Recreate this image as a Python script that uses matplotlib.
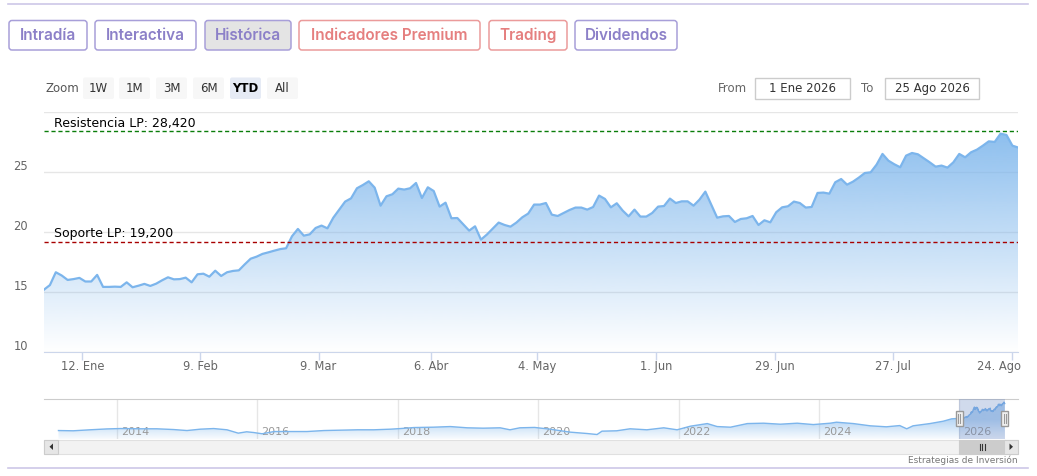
import numpy as np
import matplotlib
matplotlib.use('Agg')
import matplotlib.pyplot as plt
import matplotlib.colors as mcolors
from matplotlib.patches import FancyBboxPatch, Rectangle, Polygon
from matplotlib.transforms import ScaledTranslation, blended_transform_factory

# ---- data (daily closes, 2 Jan - 25 Aug 2026) ----
prices = [
    15.22, 15.6, 16.67, 16.4, 16.03, 16.1, 16.2, 15.9, 15.9, 16.45, 15.45, 15.45,
    15.47, 15.45, 15.83, 15.42, 15.55, 15.7, 15.53, 15.72, 16.0, 16.25, 16.08, 16.1,
    16.22, 15.83, 16.5, 16.55, 16.3, 16.8, 16.36, 16.67, 16.78, 16.83,
    17.33, 17.8, 17.97, 18.2, 18.33, 18.47, 18.6, 18.67, 19.67, 20.28, 19.72, 19.83,
    20.36, 20.56, 20.33, 21.22, 21.89, 22.56, 22.83, 23.67, 23.94, 24.25, 23.72, 22.22,
    23.0, 23.17, 23.64, 23.56, 23.67, 24.11, 22.86, 23.75, 23.44,
    22.14, 22.47, 21.17, 21.19, 20.67, 20.14, 20.5, 19.39, 19.81, 20.31, 20.81, 20.61,
    20.47, 20.81, 21.25, 21.56, 22.31, 22.31, 22.44, 21.47, 21.36, 21.61, 21.86, 22.06,
    22.06, 21.89, 22.11, 23.06, 22.78, 22.08, 22.42, 21.81, 21.33,
    21.89, 21.31, 21.31, 21.61, 22.14, 22.19, 22.81, 22.44, 22.58, 22.58, 22.22, 22.72,
    23.39, 22.31, 21.22, 21.33, 21.36, 20.86, 21.11, 21.17, 21.36, 20.61, 21.0, 20.83,
    21.67, 22.08, 22.17, 22.56, 22.44, 22.06, 22.11, 23.28, 23.31,
    23.22, 24.17, 24.44, 23.97, 24.22, 24.56, 24.94, 25.0, 25.64, 26.53, 25.97, 25.67,
    25.42, 26.39, 26.61, 26.5, 26.17, 25.83, 25.47, 25.56, 25.39, 25.83, 26.53, 26.25,
    26.67, 26.89, 27.22, 27.58, 27.53, 28.22, 28.11, 27.22, 27.06,
]
tick_labels = ['12. Ene', '9. Feb', '9. Mar', '6. Abr', '4. May', '1. Jun', '29. Jun', '27. Jul', '24. Ago']
tick_pos = [6.5, 26.5, 46.5, 65.5, 83.5, 103.7, 123.8, 143.8, 163.9]
y_ticks = [10, 15, 20, 25, 30]
y_labels = ['10', '15', '20', '25', '']

resistencia = 28.42
soporte = 19.2

# navigator history (year, value) before 2026
hist_years = [2013.17, 2013.38, 2013.62, 2013.86, 2014.05, 2014.33, 2014.57, 2014.81, 2015.0,
              2015.19, 2015.38, 2015.57, 2015.73, 2015.85, 2015.95, 2016.07, 2016.24, 2016.47,
              2016.71, 2016.95, 2017.19, 2017.43, 2017.66, 2017.9, 2018.04, 2018.23, 2018.51,
              2018.75, 2018.99, 2019.22, 2019.46, 2019.6, 2019.74, 2019.95, 2020.17, 2020.46,
              2020.7, 2020.84, 2020.91, 2021.12, 2021.31, 2021.55, 2021.79, 2021.98, 2022.17,
              2022.41, 2022.55, 2022.74, 2022.98, 2023.21, 2023.45, 2023.69, 2023.92, 2024.16,
              2024.25, 2024.49, 2024.73, 2024.96, 2025.15, 2025.25, 2025.34, 2025.58, 2025.77,
              2025.89]
hist_values = [5.4, 5.2, 6.0, 6.7, 7.0, 6.8, 6.8, 6.2, 5.4,
               6.5, 7.0, 6.0, 3.3, 4.4, 3.8, 2.8, 4.6, 4.6,
               4.6, 5.4, 5.7, 6.0, 6.0, 6.5, 7.0, 7.8, 8.1,
               8.6, 7.6, 7.3, 7.6, 6.0, 7.6, 7.9, 6.5, 4.1,
               3.0, 2.2, 4.9, 5.2, 6.8, 6.0, 7.6, 6.0, 8.9,
               11.0, 8.6, 8.1, 11.0, 11.3, 10.5, 11.3, 10.2, 11.3,
               12.1, 11.0, 9.2, 8.4, 9.4, 6.8, 9.2, 11.0, 12.9,
               14.8]
nav_years = [2014, 2016, 2018, 2020, 2022, 2024, 2026]
ytd_start, ytd_end = 2026.0, 2026.646

W, H = 1037, 476
fig = plt.figure(figsize=(W / 100, H / 100), dpi=100)
plt.rcParams['font.family'] = ['DejaVu Sans']


def px_axes(l, t, r, b, **kw):
    return fig.add_axes([l / W, 1 - b / H, (r - l) / W, (b - t) / H], **kw)


def px(dx, dy):
    return ScaledTranslation(dx / 100, -dy / 100, fig.dpi_scale_trans)


def gradient_fill(ax, x, y, base, alphas, vmin, vmax, color='#7cb5ec', z=2):
    coll = ax.fill_between(x, y, base, facecolor='none', edgecolor='none')
    path = coll.get_paths()[0]
    grad = np.zeros((len(alphas), 1, 4))
    grad[:, 0, :3] = mcolors.to_rgb(color)
    grad[:, 0, 3] = alphas
    im = ax.imshow(grad, aspect='auto', origin='upper', interpolation='bilinear',
                   extent=[x[0], x[-1], vmin, vmax], zorder=z)
    im.set_clip_path(path, transform=ax.transData)


# ---- main chart ----
ax = px_axes(44, 112.3, 1018.3, 352.3)
x = np.arange(len(prices))
gradient_fill(ax, x, prices, 10, np.linspace(0.95, 0.0, 256), 10, 30)
ax.plot(x, prices, color='#7cb5ec', lw=1.6, zorder=4, solid_joinstyle='round')
ax.set_xlim(0, len(prices) - 1)
ax.set_ylim(10, 30)
ax.set_yticks(y_ticks)
ax.set_yticklabels([])
ax.set_xticks(tick_pos)
ax.set_xticklabels([])
ax.grid(axis='y', color='#e6e6e6', lw=1)
ax.set_axisbelow(True)
for s in ['top', 'left', 'right']:
    ax.spines[s].set_visible(False)
ax.spines['bottom'].set_color('#ccd6eb')
ax.tick_params(axis='y', length=0)
ax.tick_params(axis='x', length=5.8, width=1, color='#ccd6eb')

ax.axhline(resistencia, color='#0a7d0a', lw=1, ls=(0, (3, 2)), zorder=5)
ax.axhline(soporte, color='#a80000', lw=1, ls=(0, (3, 2)), zorder=5)
ax.text(1.7, resistencia, 'Resistencia LP: 28,420', fontsize=9, color='black',
        va='center', ha='left', transform=ax.transData + px(0, -7.7), zorder=6)
ax.text(1.7, soporte, 'Soporte LP: 19,200', fontsize=9, color='black',
        va='center', ha='left', transform=ax.transData + px(0, -8), zorder=6)

bt = blended_transform_factory(ax.transAxes, ax.transData)
for v, lab in zip(y_ticks, y_labels):
    ax.text(0, v, lab, ha='right', va='center', fontsize=8.3, color='#666666',
            transform=bt + px(-16, -6))
xt = blended_transform_factory(ax.transData, ax.transAxes)
for i, (p, lab) in enumerate(zip(tick_pos, tick_labels)):
    shift = -13 if i == len(tick_pos) - 1 else 0
    ax.text(p, 0, lab, ha='center', va='center', fontsize=8.3, color='#666666',
            transform=xt + px(shift, 14.5))

# ---- navigator ----
nav = px_axes(44, 399.3, 1018.3, 439.3)
ytd_x = [ytd_start + i * (ytd_end - ytd_start) / (len(prices) - 1) for i in range(len(prices))]
nx = np.array(hist_years + ytd_x)
ny = np.array(hist_values + prices)
nav_lo, nav_hi = -1.64, 30.5
vals = np.linspace(nav_hi, nav_lo, 256)
nav_alpha = 0.05 + 0.5 * np.clip((vals - nav_lo) / (14 - nav_lo), 0, 1)
gradient_fill(nav, nx, ny, nav_lo, nav_alpha, nav_lo, nav_hi)
nav.plot(nx, ny, color='#7cb5ec', lw=1, zorder=4)
nav.axvspan(ytd_start, ytd_end, color='#6685c2', alpha=0.3, lw=0, zorder=5)
nav.set_xlim(2012.964, 2026.839)
nav.set_ylim(nav_lo, nav_hi)
nav.set_xticks(nav_years)
nav.set_xticklabels([])
nav.set_yticks([])
nav.tick_params(axis='x', length=0)
nav.grid(axis='x', color='#e6e6e6', lw=1)
nav.set_axisbelow(True)
for s in ['bottom', 'left', 'right']:
    nav.spines[s].set_visible(False)
nav.spines['top'].set_color('#cccccc')
nxt = blended_transform_factory(nav.transData, nav.transAxes)
for yr in nav_years:
    nav.text(yr, 0.19, str(yr), ha='left', va='center', fontsize=8, color='#999999',
             transform=nxt + px(4, 0), zorder=3)

# ---- page chrome (pixel coordinates) ----
ui = fig.add_axes([0, 0, 1, 1], zorder=10)
ui.set_xlim(0, W)
ui.set_ylim(H, 0)
ui.axis('off')
ui.patch.set_alpha(0)

ui.plot([8, 1028], [4, 4], color='#cdc7e8', lw=1.2)
ui.plot([8, 1028], [468, 468], color='#cdc7e8', lw=1.2)

purple, salmon = '#8c80c8', '#e57f7f'
tabs = [('Intradía', 9, 87, purple, '#a89fd9', 'white'),
        ('Interactiva', 95, 196, purple, '#a89fd9', 'white'),
        ('Histórica', 205, 291, purple, '#a89fd9', '#e4e4e4'),
        ('Indicadores Premium', 299, 480, salmon, '#eb9b9b', 'white'),
        ('Trading', 489, 567, salmon, '#eb9b9b', 'white'),
        ('Dividendos', 575, 677, purple, '#a89fd9', 'white')]
for lab, x0, x1, tc, ec, fc in tabs:
    ui.add_patch(FancyBboxPatch((x0, 20.5), x1 - x0, 29.5, boxstyle='round,pad=0,rounding_size=3',
                                fc=fc, ec=ec, lw=1.1))
    ui.text((x0 + x1) / 2, 35.5, lab, ha='center', va='center', fontsize=11, color=tc,
            family=['Inter', 'DejaVu Sans'], weight='semibold')

ui.text(45, 88.5, 'Zoom', ha='left', va='center', fontsize=8.5, color='#555555')
zbtn = [('1W', 83), ('1M', 119), ('3M', 156), ('6M', 193), ('YTD', 230), ('All', 267)]
for lab, x0 in zbtn:
    sel = lab == 'YTD'
    ui.add_patch(FancyBboxPatch((x0, 77.5), 31, 21.5, boxstyle='round,pad=0,rounding_size=2',
                                fc='#e6ebf5' if sel else '#f7f7f7', ec='none'))
    ui.text(x0 + 15.5, 88.5, lab, ha='center', va='center', fontsize=8.5,
            color='black' if sel else '#333333', weight='bold' if sel else 'normal')

ui.text(718, 88.5, 'From', ha='left', va='center', fontsize=8.5, color='#666666')
ui.add_patch(Rectangle((755, 78), 95, 21, fc='white', ec='#cccccc', lw=1))
ui.text(802.5, 88.5, '1 Ene 2026', ha='center', va='center', fontsize=8.5, color='#333333')
ui.text(861, 88.5, 'To', ha='left', va='center', fontsize=8.5, color='#666666')
ui.add_patch(Rectangle((885, 78), 94, 21, fc='white', ec='#cccccc', lw=1))
ui.text(932, 88.5, '25 Ago 2026', ha='center', va='center', fontsize=8.5, color='#333333')

# navigator handles at the selection edges
for edge in (ytd_start, ytd_end):
    hx = nav.transData.transform((edge, 0))[0]
    ui.add_patch(Rectangle((hx - 3.5, 411), 7, 15, fc='#f2f2f2', ec='#999999', lw=1))
    ui.plot([hx - 1, hx - 1], [414, 423], color='#999999', lw=0.8)
    ui.plot([hx + 1, hx + 1], [414, 423], color='#999999', lw=0.8)

# scrollbar
ui.add_patch(Rectangle((44, 439.5), 974, 14.5, fc='#f2f2f2', ec='#e0e0e0', lw=0.8))
lo = nav.transData.transform((ytd_start, 0))[0]
hi = nav.transData.transform((ytd_end, 0))[0]
ui.add_patch(Rectangle((lo, 439.5), hi - lo, 14.5, fc='#cccccc', ec='#cccccc', lw=0.8))
mid = (lo + hi) / 2
for dx in (-2.5, 0, 2.5):
    ui.plot([mid + dx, mid + dx], [443.5, 450], color='#333333', lw=0.8)
for bx, pts in ((44, [(53, 443.5), (53, 450), (49.5, 446.75)]),
                (1004, [(1009.5, 443.5), (1009.5, 450), (1013, 446.75)])):
    ui.add_patch(Rectangle((bx, 439.5), 14, 14.5, fc='#e6e6e6', ec='#cccccc', lw=0.8))
    ui.add_patch(Polygon(pts, closed=True, fc='#333333', ec='none'))

ui.text(1018, 460, 'Estrategias de Inversión', ha='right', va='center', fontsize=6.5, color='#777777')

fig.savefig('out.png', dpi=100)
